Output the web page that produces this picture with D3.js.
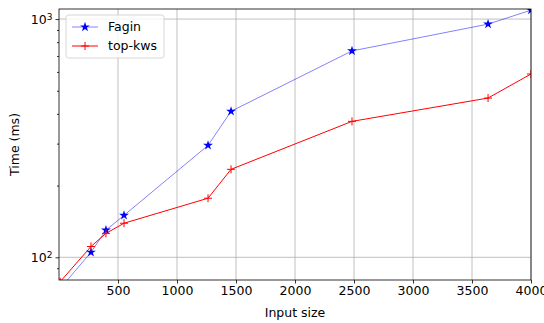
<!DOCTYPE html>
<html>
<head>
<meta charset="utf-8">
<script src="https://cdn.jsdelivr.net/npm/d3@7"></script>
<style>
  body { margin: 0; background: #fff; }
  text { font-family: "DejaVu Sans", sans-serif; }
</style>
</head>
<body>
<svg id="chart" width="544" height="323"></svg>
<script>
// data
const inputSizes = [10, 271, 398, 551, 1263, 1458, 2483, 3636, 4000];
const faginTimes = [74, 105, 130, 150, 295, 410, 735, 952, 1090];
const topKwsTimes = [79, 111, 126, 139, 177, 234, 372, 466, 588];
const xTicks = [500, 1000, 1500, 2000, 2500, 3000, 3500, 4000];
const yMajor = [100, 1000];
const yMinor = [90, 200, 300, 400, 500, 600, 700, 800, 900];

const margin = { left: 59, right: 13, top: 9, bottom: 43 };
const width = 544, height = 323;
const fs = 12.5;

const svg = d3.select("#chart");

const x = d3.scaleLinear().domain([0, 4000]).range([margin.left, width - margin.right]);
const y = d3.scaleLog().domain([80.3, 1102]).range([height - margin.bottom, margin.top]);

svg.append("defs").append("clipPath").attr("id", "clip")
  .append("rect")
  .attr("x", margin.left).attr("y", margin.top)
  .attr("width", width - margin.left - margin.right)
  .attr("height", height - margin.top - margin.bottom);

// grid
svg.append("g").selectAll("line").data(xTicks).enter().append("line")
  .attr("x1", d => x(d)).attr("x2", d => x(d))
  .attr("y1", margin.top).attr("y2", height - margin.bottom)
  .attr("stroke", "#b0b0b0").attr("stroke-width", 0.8);
svg.append("g").selectAll("line").data(yMajor).enter().append("line")
  .attr("x1", margin.left).attr("x2", width - margin.right)
  .attr("y1", d => y(d)).attr("y2", d => y(d))
  .attr("stroke", "#b0b0b0").attr("stroke-width", 0.8);

// axes
const xAxis = svg.append("g")
  .attr("transform", "translate(0," + (height - margin.bottom) + ")")
  .call(d3.axisBottom(x).tickValues(xTicks).tickSize(3.5).tickPadding(3).tickFormat(d3.format("d")));
const yAxis = svg.append("g")
  .attr("transform", "translate(" + margin.left + ",0)")
  .call(d3.axisLeft(y).tickValues(yMajor).tickSize(3.5).tickPadding(3).tickFormat(""));
svg.append("g")
  .attr("transform", "translate(" + margin.left + ",0)")
  .call(d3.axisLeft(y).tickValues(yMinor).tickSize(2).tickFormat(""))
  .call(g => g.select(".domain").remove());

[xAxis, yAxis].forEach(g => {
  g.selectAll(".domain").remove();
  g.selectAll("text").attr("font-size", fs).attr("fill", "#000");
});
svg.selectAll(".tick line").attr("stroke", "#000").attr("stroke-width", 0.8);

// y tick labels with superscript
yAxis.selectAll(".tick").each(function(d) {
  const t = d3.select(this).append("text")
    .attr("x", -6.5).attr("dy", "0.35em")
    .attr("text-anchor", "end").attr("font-size", fs).attr("fill", "#000");
  t.append("tspan").text("10");
  t.append("tspan").attr("dy", "-0.45em").attr("font-size", 9).text(Math.round(Math.log10(d)));
});

// lines
const plot = svg.append("g").attr("clip-path", "url(#clip)");
const faginPts = inputSizes.map((d, i) => [x(d), y(faginTimes[i])]);
const topPts = inputSizes.map((d, i) => [x(d), y(topKwsTimes[i])]);

plot.append("path").attr("d", d3.line()(faginPts))
  .attr("fill", "none").attr("stroke", "blue").attr("stroke-opacity", 0.55).attr("stroke-width", 0.9);
plot.append("path").attr("d", d3.line()(topPts))
  .attr("fill", "none").attr("stroke", "red").attr("stroke-width", 1);

const star = d3.symbol().type(d3.symbolStar).size(30);
plot.selectAll(".star").data(faginPts).enter().append("path")
  .attr("transform", d => "translate(" + d[0] + "," + d[1] + ")")
  .attr("d", star).attr("fill", "blue");

plot.selectAll(".plus").data(topPts).enter().append("path")
  .attr("d", d => "M" + (d[0] - 4) + "," + d[1] + "H" + (d[0] + 4) + "M" + d[0] + "," + (d[1] - 4) + "V" + (d[1] + 4))
  .attr("stroke", "red").attr("stroke-width", 1);

// frame
svg.append("rect")
  .attr("x", margin.left).attr("y", margin.top)
  .attr("width", width - margin.left - margin.right)
  .attr("height", height - margin.top - margin.bottom)
  .attr("fill", "none").attr("stroke", "#000").attr("stroke-width", 0.8);

// axis labels
svg.append("text").attr("x", (margin.left + width - margin.right) / 2).attr("y", 317)
  .attr("text-anchor", "middle").attr("font-size", fs).text("Input size");
svg.append("text").attr("transform", "translate(19," + ((margin.top + height - margin.bottom) / 2) + ") rotate(-90)")
  .attr("text-anchor", "middle").attr("font-size", fs).text("Time (ms)");

// legend
const legend = svg.append("g").attr("transform", "translate(66,15)");
legend.append("rect").attr("width", 98).attr("height", 43).attr("rx", 2.5)
  .attr("fill", "#fff").attr("fill-opacity", 0.8).attr("stroke", "#ccc").attr("stroke-width", 0.8);
legend.append("line").attr("x1", 6).attr("x2", 32).attr("y1", 12).attr("y2", 12)
  .attr("stroke", "blue").attr("stroke-opacity", 0.55).attr("stroke-width", 0.9);
legend.append("path").attr("transform", "translate(19,12)").attr("d", star).attr("fill", "blue");
legend.append("text").attr("x", 42).attr("y", 12).attr("dy", "0.35em").attr("font-size", fs).text("Fagin");
legend.append("line").attr("x1", 6).attr("x2", 32).attr("y1", 31).attr("y2", 31)
  .attr("stroke", "red").attr("stroke-width", 1);
legend.append("path").attr("d", "M15,31H23M19,27V35").attr("stroke", "red").attr("stroke-width", 1);
legend.append("text").attr("x", 42).attr("y", 31).attr("dy", "0.35em").attr("font-size", fs).text("top-kws");
</script>
</body>
</html>
